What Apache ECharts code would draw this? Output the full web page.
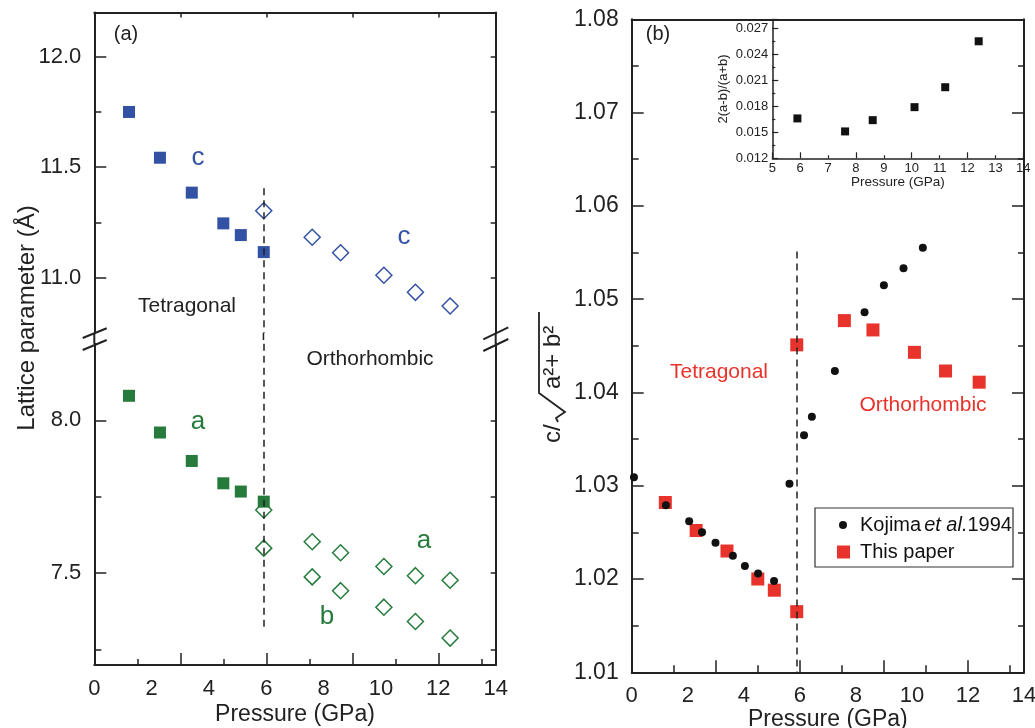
<!DOCTYPE html>
<html>
<head>
<meta charset="utf-8">
<script src="https://cdn.jsdelivr.net/npm/echarts@6/dist/echarts.min.js"></script>
<style>
  html, body { margin: 0; padding: 0; background: #fff; }
  #chart { width: 1035px; height: 728px; }
</style>
</head>
<body>
<div id="chart"></div>
<script>
  // (a) lattice parameters vs pressure
  const pressTet = [1.21, 2.29, 3.40, 4.50, 5.11, 5.91];
  const cTet = [11.750, 11.543, 11.385, 11.246, 11.193, 11.116];
  const aTet = [8.080, 7.960, 7.867, 7.794, 7.767, 7.734];
  const pressOrth = [5.91, 7.60, 8.59, 10.10, 11.20, 12.41];
  const cOrth = [11.303, 11.183, 11.113, 11.011, 10.934, 10.872];
  const aOrth = [7.707, 7.603, 7.567, 7.522, 7.492, 7.477];
  const bOrth = [7.582, 7.488, 7.443, 7.389, 7.342, 7.288];

  // (b) c / sqrt(a^2 + b^2)
  const kojimaP = [0.08, 1.22, 2.05, 2.51, 2.99, 3.61, 4.04, 4.51, 5.08, 5.63, 6.15, 6.43, 7.25, 8.31, 9.00, 9.70, 10.39];
  const kojimaR = [1.0309, 1.0279, 1.0262, 1.0250, 1.0239, 1.0225, 1.0214, 1.0206, 1.0198, 1.0302, 1.0354, 1.0374, 1.0423, 1.0486, 1.0515, 1.0533, 1.0555];
  const paperP = [1.20, 2.30, 3.40, 4.50, 5.09, 5.89, 5.89, 7.59, 8.61, 10.09, 11.20, 12.40];
  const paperR = [1.0282, 1.0252, 1.0230, 1.0200, 1.0188, 1.0165, 1.0451, 1.0477, 1.0467, 1.0443, 1.0423, 1.0411];

  // inset: 2(a-b)/(a+b)
  const insetP = [5.90, 7.61, 8.60, 10.10, 11.20, 12.40];
  const insetD = [0.0166, 0.0151, 0.0164, 0.0179, 0.0202, 0.0255];

  const transitionP = 5.9;

  // tick positions
  const cTicks = [11.0, 11.5, 12.0];
  const cMinor = [11.25, 11.75];
  const cSide = [11.0, 11.25, 11.5, 11.75, 12.0];
  const abTicks = [7.5, 8.0];
  const abMinor = [7.25, 7.75];
  const abSide = [7.25, 7.5, 7.75, 8.0];

  const FONT = '"Liberation Sans", Arial, Helvetica, sans-serif';
  const INK = '#222';
  const BLUE = '#3452a4';
  const GREEN = '#267b3c';
  const RED = '#e8332c';

  // panel boxes
  const G = [
    { left: 94.3, width: 401.4, top: 12.5, height: 320.5 },  // (a) upper: c
    { left: 94.3, width: 401.4, top: 343.8, height: 321.2 }, // (a) lower: a, b
    { left: 631.7, width: 392.3, top: 19.3, height: 653 },   // (b)
    { left: 772.3, width: 251, top: 19.6, height: 138.7 }    // inset
  ];

  const xP = { min: 0, max: 14 };
  const yC = { min: 10.75, max: 12.2 };
  const yAB = { min: 7.2, max: 8.25 };
  const yR = { min: 1.01, max: 1.08 };
  const xI = { min: 5, max: 14 };
  const yI = { min: 0.012, max: 0.028 };

  const toPairs = (xs, ys) => xs.map((x, i) => [x, ys[i]]);

  const off = { show: false };
  const line = { show: true, onZero: false, lineStyle: { color: INK, width: 2 } };
  const thin = { show: true, onZero: false, lineStyle: { color: INK, width: 1.5 } };
  const tickStyle = { color: INK, width: 1.5 };
  const fineStyle = { color: INK, width: 1.2 };

  const grids = G.map(g => Object.assign({ outerBoundsMode: 'none' }, g));

  const frame = (grid, pos, range, extra) => Object.assign({
    gridIndex: grid, type: 'value', position: pos,
    axisLine: line, axisTick: off, axisLabel: off, splitLine: off, minorSplitLine: off
  }, range, extra || {});

  const pressureName = (gap, size) => ({
    name: 'Pressure (GPa)', nameLocation: 'middle', nameGap: gap, nameMoveOverlap: false,
    nameTextStyle: { fontSize: size, color: INK }
  });

  const xAxes = [
    frame(0, 'top', xP),                                               // 0: (a) top frame
    frame(1, 'bottom', xP, Object.assign({ interval: 2,
      axisLabel: { fontSize: 22, color: INK, margin: 13 } }, pressureName(38, 23))),  // 1
    frame(2, 'bottom', xP, Object.assign({ interval: 2,
      axisLabel: { fontSize: 22, color: INK, margin: 13 } }, pressureName(36, 23))),  // 2
    frame(2, 'top', xP),                                               // 3: (b) top frame
    frame(3, 'bottom', xI, Object.assign({ interval: 1, axisLine: thin,
      axisLabel: { fontSize: 13, color: INK, margin: 4 } }, pressureName(17, 13.5)))  // 4: inset
  ];
  const yAxes = [
    frame(0, 'left', yC, { axisLabel: { customValues: cTicks, fontSize: 22, color: INK, margin: 13,
      formatter: v => v.toFixed(1) } }),                               // 0
    frame(0, 'right', yC),                                             // 1
    frame(1, 'left', yAB, { axisLabel: { customValues: abTicks, fontSize: 22, color: INK, margin: 13,
      formatter: v => v.toFixed(1) } }),                               // 2
    frame(1, 'right', yAB),                                            // 3
    frame(2, 'left', yR, { interval: 0.01, axisLabel: { fontSize: 23, color: INK, margin: 13,
      formatter: v => v.toFixed(2) } }),                               // 4
    frame(2, 'right', yR),                                             // 5
    frame(3, 'left', yI, { interval: 0.003, axisLine: thin,
      axisLabel: { fontSize: 13, color: INK, margin: 4, showMaxLabel: false, formatter: v => v.toFixed(3) },
      name: '2(a-b)/(a+b)', nameLocation: 'middle', nameGap: 42, nameRotate: 90, nameMoveOverlap: false,
      nameTextStyle: { fontSize: 13, color: INK } })                   // 6
  ];

  // Inward ticks: an axis on a thin grid just outside one edge of a panel,
  // its (outward) ticks then reach into the panel.
  function inwardTicks(g, side, range, tick, minor) {
    const b = G[g];
    const box = side === 'left' ? { left: b.left - 20, width: 20, top: b.top, height: b.height }
      : side === 'right' ? { left: b.left + b.width, width: 10, top: b.top, height: b.height }
      : side === 'top' ? { left: b.left, width: b.width, top: Math.max(0, b.top - 20), height: Math.min(20, b.top) }
      : { left: b.left, width: b.width, top: b.top + b.height, height: 20 };
    grids.push(Object.assign({ outerBoundsMode: 'none' }, box));
    const gi = grids.length - 1;
    const face = { left: 'right', right: 'left', top: 'bottom', bottom: 'top' }[side];
    const ax = Object.assign({
      gridIndex: gi, type: 'value', position: face,
      axisLine: { show: false, onZero: false }, axisLabel: off, splitLine: off, minorSplitLine: off,
      axisTick: Object.assign({ show: true, length: 12, lineStyle: tickStyle }, tick),
      minorTick: minor ? Object.assign({ show: true, splitNumber: 2, lineStyle: tickStyle }, minor) : off
    }, range);
    const dummy = { gridIndex: gi, type: 'value', show: false, min: 1, max: 2 };
    if (side === 'left' || side === 'right') { yAxes.push(ax); xAxes.push(dummy); }
    else { xAxes.push(ax); yAxes.push(dummy); }
  }

  inwardTicks(0, 'left', yC, { customValues: cTicks, length: 12 });
  inwardTicks(0, 'left', yC, { customValues: cMinor, length: 7 });
  inwardTicks(0, 'right', yC, { customValues: cSide, length: 5 });
  inwardTicks(0, 'top', xP, { interval: 1, length: 5 });
  inwardTicks(1, 'left', yAB, { customValues: abTicks, length: 12 });
  inwardTicks(1, 'left', yAB, { customValues: abMinor, length: 7 });
  inwardTicks(1, 'right', yAB, { customValues: abSide, length: 5 });
  inwardTicks(1, 'bottom', xP, { interval: 2, length: 12 }, { length: 6 });
  inwardTicks(2, 'left', yR, { interval: 0.01, length: 12 }, { length: 7 });
  inwardTicks(2, 'right', yR, { interval: 0.01, length: 12 }, { length: 6 });
  inwardTicks(2, 'bottom', xP, { interval: 2, length: 12 }, { length: 7 });
  inwardTicks(3, 'left', yI, { interval: 0.003, length: 6, lineStyle: fineStyle }, { length: 3, lineStyle: fineStyle });
  inwardTicks(3, 'bottom', xI, { interval: 1, length: 6, lineStyle: fineStyle }, { length: 3, lineStyle: fineStyle });

  const dashed = (from, to) => ({
    silent: true,
    symbol: ['none', 'none'],
    label: { show: false },
    lineStyle: { color: INK, type: [7, 5], width: 1.5 },
    data: [[{ coord: from }, { coord: to }]]
  });

  const openDiamond = color => ({ color: 'rgba(0,0,0,0)', borderColor: color, borderWidth: 1.5, opacity: 1 });

  const myChart = echarts.init(document.getElementById('chart'));
  myChart.setOption({
    animation: false,
    textStyle: { fontFamily: FONT },
    grid: grids,
    xAxis: xAxes,
    yAxis: yAxes,
    legend: [
      {
        data: ['Kojima et al.1994'], left: 839, top: 515, padding: 0,
        icon: 'circle', itemWidth: 8, itemHeight: 8, selectedMode: false,
        formatter: () => '{n|Kojima}{i|et al.}{n|1994}',
        textStyle: {
          padding: [0, 0, 0, 8],
          rich: {
            n: { fontSize: 20, color: '#111', fontFamily: FONT },
            i: { fontSize: 20, color: '#111', fontStyle: 'italic', fontFamily: FONT, padding: [0, 0, 0, 3] }
          }
        }
      },
      {
        data: ['This paper'], left: 837, top: 542, padding: 0,
        icon: 'rect', itemWidth: 13, itemHeight: 13, selectedMode: false,
        textStyle: { fontSize: 20, color: '#111', padding: [0, 0, 0, 5] }
      }
    ],
    series: [
      {
        name: 'c tetragonal', type: 'scatter', xAxisIndex: 0, yAxisIndex: 0,
        symbol: 'rect', symbolSize: 12, itemStyle: { color: BLUE, opacity: 1 },
        data: toPairs(pressTet, cTet),
        markLine: dashed([transitionP, 11.405], [transitionP, 10.75])
      },
      {
        name: 'c orthorhombic', type: 'scatter', xAxisIndex: 0, yAxisIndex: 0,
        symbol: 'diamond', symbolSize: 16, itemStyle: openDiamond(BLUE),
        data: toPairs(pressOrth, cOrth)
      },
      {
        name: 'a tetragonal', type: 'scatter', xAxisIndex: 1, yAxisIndex: 2,
        symbol: 'rect', symbolSize: 12, itemStyle: { color: GREEN, opacity: 1 },
        data: toPairs(pressTet, aTet),
        markLine: dashed([transitionP, 8.25], [transitionP, 7.318])
      },
      {
        name: 'a orthorhombic', type: 'scatter', xAxisIndex: 1, yAxisIndex: 2,
        symbol: 'diamond', symbolSize: 16, itemStyle: openDiamond(GREEN),
        data: toPairs(pressOrth, aOrth)
      },
      {
        name: 'b orthorhombic', type: 'scatter', xAxisIndex: 1, yAxisIndex: 2,
        symbol: 'diamond', symbolSize: 16, itemStyle: openDiamond(GREEN),
        data: toPairs(pressOrth, bOrth)
      },
      {
        name: 'This paper', type: 'scatter', xAxisIndex: 2, yAxisIndex: 4,
        symbol: 'rect', symbolSize: 13, itemStyle: { color: RED, opacity: 1 },
        data: toPairs(paperP, paperR),
        markLine: dashed([transitionP, 1.0551], [transitionP, 1.01])
      },
      {
        name: 'Kojima et al.1994', type: 'scatter', xAxisIndex: 2, yAxisIndex: 4,
        symbol: 'circle', symbolSize: 8, clip: false, z: 5,
        itemStyle: { color: '#111', opacity: 1 },
        data: toPairs(kojimaP, kojimaR)
      },
      {
        name: 'splitting', type: 'scatter', xAxisIndex: 4, yAxisIndex: 6,
        symbol: 'rect', symbolSize: 8, itemStyle: { color: '#111', opacity: 1 },
        data: toPairs(insetP, insetD)
      }
    ]
  });

  // annotations, axis break and axis titles drawn on top
  const gapTop = myChart.convertToPixel({ xAxisIndex: 0, yAxisIndex: 0 }, [transitionP, 10.75]);
  const gapBot = myChart.convertToPixel({ xAxisIndex: 1, yAxisIndex: 2 }, [transitionP, 8.25]);

  const label = (text, x, y, size, color, extra) => Object.assign({
    type: 'text', x: x, y: y, silent: true,
    style: {
      text: text, fill: color || INK, font: size + 'px ' + FONT,
      align: 'center', verticalAlign: 'middle', textAlign: 'center', textVerticalAlign: 'middle'
    }
  }, extra || {});

  const seg = (x1, y1, x2, y2) => ({
    type: 'line', silent: true,
    shape: { x1: x1, y1: y1, x2: x2, y2: y2 },
    style: { stroke: INK, lineWidth: 2 }
  });

  const aLeft = G[0].left, aRight = G[0].left + G[0].width;
  const breakTop = G[0].top + G[0].height, breakBot = G[1].top;

  myChart.setOption({
    graphic: [
      // dashed line continues across the break
      {
        type: 'line', silent: true,
        shape: { x1: gapTop[0], y1: gapTop[1], x2: gapBot[0], y2: gapBot[1] },
        style: { stroke: INK, lineWidth: 1.5, lineDash: [7, 5] }
      },
      // frame through the break and break marks
      seg(aLeft, breakTop, aLeft, breakBot),
      seg(aRight, breakTop, aRight, breakBot),
      seg(aLeft - 11.6, 338, aLeft + 12.4, 328.3),
      seg(aLeft - 11.6, 350, aLeft + 12.4, 340),
      seg(aRight - 12.4, 339.3, aRight + 12.6, 327.3),
      seg(aRight - 12.4, 351, aRight + 12.6, 339),

      label('(a)', 126, 34, 20),
      label('c', 198, 158, 26, BLUE),
      label('c', 404, 237, 26, BLUE),
      label('Tetragonal', 187, 306, 21),
      label('Orthorhombic', 370, 359, 21),
      label('a', 198, 422, 26, GREEN),
      label('a', 424, 541, 26, GREEN),
      label('b', 327, 617, 26, GREEN),
      label('Lattice parameter (Å)', 27, 318, 24, INK, { rotation: Math.PI / 2 }),

      label('(b)', 658, 34, 20),
      label('Tetragonal', 719, 372, 21, RED),
      label('Orthorhombic', 923, 405, 21, RED),

      // legend frame
      {
        type: 'rect', silent: true,
        shape: { x: 815, y: 508, width: 198, height: 59 },
        style: { fill: 'none', stroke: '#333', lineWidth: 1.2 }
      },

      // c / sqrt(a^2 + b^2)
      {
        type: 'group', x: 556, y: 443, rotation: Math.PI / 2, silent: true,
        children: [
          {
            type: 'text', x: 0, y: -3,
            style: { text: 'c/', fill: INK, font: '24px ' + FONT,
              align: 'left', verticalAlign: 'middle', textAlign: 'left', textVerticalAlign: 'middle' }
          },
          {
            type: 'polyline',
            shape: { points: [[21, 2], [25, 0], [31, 9], [50, -17], [131, -17]] },
            style: { stroke: INK, lineWidth: 1.8, fill: 'none' }
          },
          {
            type: 'text', x: 54, y: -3,
            style: { text: 'a²+ b²', fill: INK, font: '24px ' + FONT,
              align: 'left', verticalAlign: 'middle', textAlign: 'left', textVerticalAlign: 'middle' }
          }
        ]
      }
    ]
  });
</script>
</body>
</html>
